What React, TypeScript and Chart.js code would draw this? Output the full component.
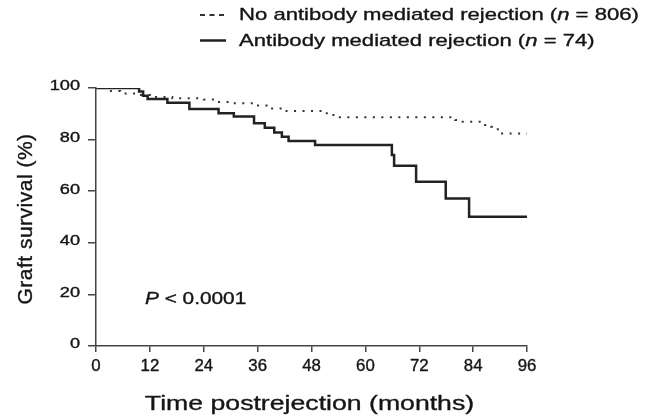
import React, { useEffect, useRef } from "react";
import { Chart, registerables } from "chart.js";

Chart.register(...registerables);

// Kaplan-Meier step points (months, % graft survival)
const amrMonths = [0, 9.6, 10.5, 11.5, 15.9, 20.8, 27.3, 30.7, 35.2, 37.6, 39.7, 41.4, 42.9, 48.8, 65.9, 66.4, 71.3, 77.9, 83.1, 96];
const amrSurvival = [100, 98.6, 97.0, 95.7, 94.3, 91.9, 90.2, 89.0, 86.3, 84.6, 82.8, 81.1, 79.5, 77.9, 74.0, 69.9, 63.7, 57.2, 50.1, 50.1];

const noAmrMonths = [0, 3, 5.4, 9, 12, 17, 24, 26.9, 30.5, 35, 38, 42, 51.4, 53.6, 80, 81, 86.2, 88, 89.5, 96];
const noAmrSurvival = [100, 98.8, 97.9, 97.3, 96.5, 96.0, 95.5, 94.6, 94.1, 93.2, 92.1, 91.1, 89.5, 88.7, 87.6, 86.9, 85.7, 85.0, 82.4, 82.4];

const xTicks = [0, 12, 24, 36, 48, 60, 72, 84, 96];
const yTicks = [0, 20, 40, 60, 80, 100];

const legendNoAmr = ["No antibody mediated rejection (", "n", " = 806)"];
const legendAmr = ["Antibody mediated rejection (", "n", " = 74)"];
const xTitle = "Time postrejection (months)";
const yTitle = "Graft survival (%)";
const pText = ["P", " < 0.0001"];

const FONT = "'Liberation Sans', Arial, Helvetica, sans-serif";
const INK = "#151515";
const SX = 1.3; // horizontal stretch of the reference figure's lettering

function drawParts(
  ctx: CanvasRenderingContext2D,
  parts: string[],
  x: number,
  y: number,
  size: number,
  italicIdx: number,
  align: "left" | "center" | "right" = "left",
  sx = SX
) {
  const fonts = parts.map((_, i) => `${i === italicIdx ? "italic " : ""}${size}px ${FONT}`);
  let total = 0;
  const widths = parts.map((p, i) => {
    ctx.font = fonts[i];
    const w = ctx.measureText(p).width;
    total += w;
    return w;
  });
  ctx.save();
  ctx.translate(x, y);
  ctx.scale(sx, 1);
  ctx.textAlign = "left";
  ctx.strokeStyle = INK;
  ctx.lineWidth = 0.35;
  let cx = align === "left" ? 0 : align === "center" ? -total / 2 : -total;
  parts.forEach((p, i) => {
    ctx.font = fonts[i];
    ctx.fillText(p, cx, 0);
    ctx.strokeText(p, cx, 0);
    cx += widths[i];
  });
  ctx.restore();
}

const textPlugin = {
  id: "texts",
  afterDraw(chart: any) {
    const ctx: CanvasRenderingContext2D = chart.ctx;
    const area = chart.chartArea;
    const xs = chart.scales.x;
    const ys = chart.scales.y;
    ctx.save();
    ctx.fillStyle = INK;
    ctx.textBaseline = "alphabetic";
    // legend samples
    ctx.strokeStyle = "#333";
    ctx.lineWidth = 2;
    ctx.setLineDash([5, 4.5]);
    ctx.beginPath();
    ctx.moveTo(200, 15);
    ctx.lineTo(226, 15);
    ctx.stroke();
    ctx.setLineDash([]);
    ctx.strokeStyle = "#222";
    ctx.lineWidth = 2.5;
    ctx.beginPath();
    ctx.moveTo(200, 40.5);
    ctx.lineTo(226, 40.5);
    ctx.stroke();
    // legend texts
    drawParts(ctx, legendNoAmr, 239, 20, 17, 1);
    drawParts(ctx, legendAmr, 239, 46, 17, 1);
    // P value
    drawParts(ctx, pText, 145, 304, 16, 0);
    // tick labels
    ctx.textBaseline = "middle";
    yTicks.forEach((v) => {
      drawParts(ctx, [String(v)], 80, ys.getPixelForValue(v) - 1.5, 14, -1, "right");
    });
    xTicks.forEach((v) => {
      drawParts(ctx, [String(v)], xs.getPixelForValue(v), 366.5, 16, -1, "center", 1.05);
    });
    // x title
    ctx.textBaseline = "alphabetic";
    drawParts(ctx, [xTitle], (area.left + area.right) / 2 - 2, 410, 20.5, -1, "center");
    // y title
    ctx.translate(32, 219);
    ctx.rotate(-Math.PI / 2);
    (ctx as any).letterSpacing = "0.5px";
    drawParts(ctx, [yTitle], 0, 0, 21, -1, "center", 1);
    ctx.restore();
  },
};

export default function App() {
  const ref = useRef<HTMLCanvasElement>(null);
  useEffect(() => {
    if (!ref.current) return;
    const chart = new Chart(ref.current, {
      type: "line",
      data: {
        datasets: [
          {
            label: "No antibody mediated rejection (n = 806)",
            data: noAmrMonths.map((m, i) => ({ x: m, y: noAmrSurvival[i] })),
            stepped: "before",
            borderColor: "#333",
            borderWidth: 2,
            borderDash: [2, 6.5],
            pointRadius: 0,
            fill: false,
          },
          {
            label: "Antibody mediated rejection (n = 74)",
            data: amrMonths.map((m, i) => ({ x: m, y: amrSurvival[i] })),
            stepped: "before",
            borderColor: "#222",
            borderWidth: 2.5,
            pointRadius: 0,
            fill: false,
          },
        ],
      },
      options: {
        responsive: false,
        animation: false,
        layout: { padding: { top: 88, right: 126, left: 0, bottom: 0 } },
        plugins: { legend: { display: false }, tooltip: { enabled: false } },
        scales: {
          x: {
            type: "linear",
            min: 0,
            max: 96,
            afterFit: (s: any) => { s.height = 70; },
            afterBuildTicks: (s: any) => { s.ticks = xTicks.map((v) => ({ value: v })); },
            ticks: { display: false },
            grid: { display: true, drawOnChartArea: false, drawTicks: true, tickLength: 6, color: "#444", lineWidth: 1.5 },
            border: { display: true, color: "#444", width: 1.5 },
          },
          y: {
            type: "linear",
            min: 0,
            max: 100,
            afterFit: (s: any) => { s.width = 96; },
            afterBuildTicks: (s: any) => { s.ticks = yTicks.map((v) => ({ value: v })); },
            ticks: { display: false },
            grid: { display: true, drawOnChartArea: false, drawTicks: true, tickLength: 8, color: "#444", lineWidth: 1.5 },
            border: { display: true, color: "#444", width: 1.5 },
          },
        },
      },
      plugins: [textPlugin],
    } as any);
    return () => chart.destroy();
  }, []);
  return (
    <div style={{ position: "fixed", left: 0, top: 0, width: 653, height: 416, background: "#fff" }}>
      <canvas ref={ref} width={653} height={416} />
    </div>
  );
}
